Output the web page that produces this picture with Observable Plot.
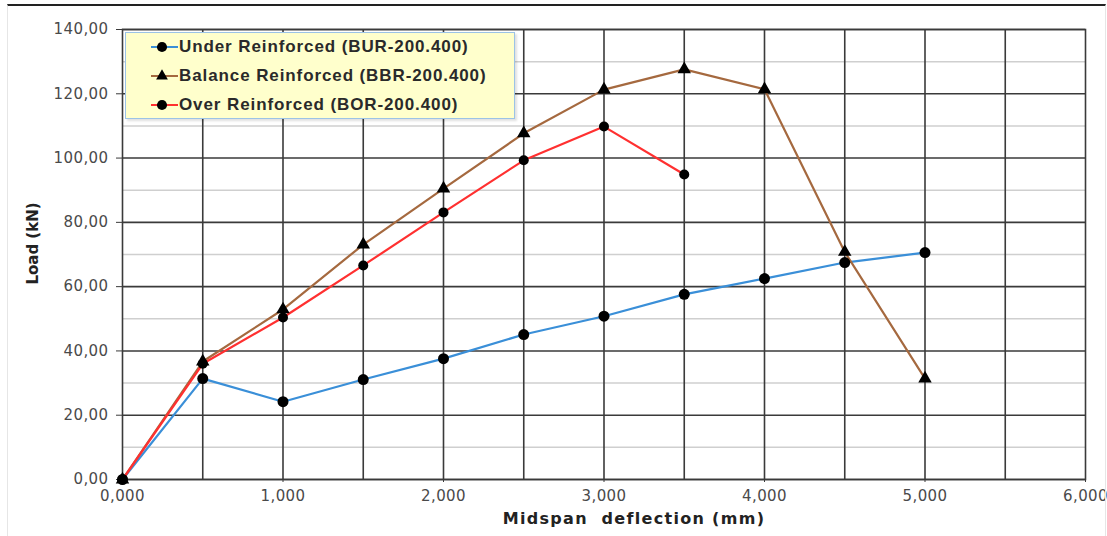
<!DOCTYPE html>
<html><head><meta charset="utf-8">
<script src="https://cdn.jsdelivr.net/npm/d3@7"></script>
<script src="https://cdn.jsdelivr.net/npm/@observablehq/plot@0.6"></script>
<style>
body{margin:0;background:#fff;}
#wrap{position:relative;width:1107px;height:536px;overflow:hidden;background:#fff;}
#frame{position:absolute;left:7px;top:4px;width:1097px;height:540px;border-top:2px solid #222;border-left:1px solid #e6e6e6;border-right:1px solid #e6e6e6;pointer-events:none;}
#legend{position:absolute;left:125px;top:32px;width:388px;height:85px;background:#ffffcc;border:1.5px solid #9cc3e6;box-shadow:2px 2px 2px rgba(0,0,0,0.12);font:bold 17px "Liberation Sans",Arial,sans-serif;letter-spacing:0.9px;color:#2a2a2a;}
.row{position:absolute;left:24px;height:20px;display:flex;align-items:center;white-space:nowrap;}
.row svg{margin-right:0px;}
.tickText text{letter-spacing:0.4px;}
</style></head>
<body>
<div id="wrap"><div id="chart"></div><div id="frame"></div><div id="legend"></div></div>
<script>
// Data
const seriesNames = ["Under Reinforced (BUR-200.400)", "Balance Reinforced (BBR-200.400)", "Over Reinforced (BOR-200.400)"];
const deflBUR = [0, 0.5, 1, 1.5, 2, 2.5, 3, 3.5, 4, 4.5, 5];
const loadBUR = [0, 31.4, 24.2, 31.1, 37.6, 45.1, 50.8, 57.6, 62.5, 67.5, 70.6];
const deflBBR = [0, 0.5, 1, 1.5, 2, 2.5, 3, 3.5, 4, 4.5, 5];
const loadBBR = [0, 36.7, 52.9, 73.1, 90.5, 107.7, 121.3, 127.6, 121.4, 70.8, 31.4];
const deflBOR = [0, 0.5, 1, 1.5, 2, 2.5, 3, 3.5];
const loadBOR = [0, 36.0, 50.4, 66.6, 83.1, 99.3, 109.8, 94.9];
const xTicks = [0, 1, 2, 3, 4, 5, 6];
const xGrid = [0.5, 1, 1.5, 2, 2.5, 3, 3.5, 4, 4.5, 5, 5.5];
const yTicks = [0, 20, 40, 60, 80, 100, 120, 140];
const yMinor = [10, 30, 50, 70, 90, 110, 130];
const colors = ["#3a8fd8", "#a5693f", "#ff3030"];
const symbols = ["circle", "triangle", "circle"];
const xLabel = "Midspan\u00a0 deflection (mm)";
const yLabel = "Load (kN)";

const mk = (xs, ys, s) => xs.map((x, i) => ({x, y: ys[i], s}));
const bur = mk(deflBUR, loadBUR, seriesNames[0]);
const bbr = mk(deflBBR, loadBBR, seriesNames[1]);
const bor = mk(deflBOR, loadBOR, seriesNames[2]);

const fmtY = d => d3.format(".2f")(d).replace(".", ",");
const fmtX = d => d3.format(".3f")(d).replace(".", ",");

const plot = Plot.plot({
  width: 1107, height: 536,
  marginLeft: 122, marginRight: 22, marginTop: 29, marginBottom: 57,
  x: {domain: [0, 6]},
  y: {domain: [0, 140]},
  style: {fontFamily: "DejaVu Sans", fontSize: "15px", color: "#4a4a4a", background: "transparent"},
  marks: [
    Plot.gridY(yMinor, {stroke: "#cfcfcf", strokeOpacity: 1, strokeWidth: 1.5}),
    Plot.gridY(yTicks, {stroke: "#3a3a3a", strokeOpacity: 1, strokeWidth: 1.6}),
    Plot.gridX(xGrid, {stroke: "#3a3a3a", strokeOpacity: 1, strokeWidth: 1.6}),
    Plot.frame({stroke: "#3a3a3a", strokeWidth: 1.6}),
    Plot.axisY(yTicks, {tickFormat: fmtY, tickSize: 6, tickPadding: 8, label: null, stroke: "#3a3a3a", className: "tickText"}),
    Plot.axisX(xTicks, {tickFormat: fmtX, tickSize: 3, tickPadding: 8, label: null, stroke: "#3a3a3a", className: "tickText"}),
    Plot.text([yLabel], {frameAnchor: "left", rotate: -90, textAnchor: "middle", dx: -89, dy: -11, fontWeight: "bold", fontSize: 15, fill: "#222"}),
    Plot.text([xLabel], {frameAnchor: "bottom", lineAnchor: "middle", dx: 30, dy: 39, fontWeight: "bold", fontSize: 16, fill: "#222"}),
    Plot.line(bur, {x: "x", y: "y", stroke: colors[0], strokeWidth: 2.2}),
    Plot.line(bbr, {x: "x", y: "y", stroke: colors[1], strokeWidth: 2.2}),
    Plot.line(bor, {x: "x", y: "y", stroke: colors[2], strokeWidth: 2.2}),
    Plot.dot(bur, {x: "x", y: "y", r: 5.5, fill: "#000", symbol: "circle"}),
    Plot.dot(bbr, {x: "x", y: "y", r: 5, fill: "#000", symbol: "triangle"}),
    Plot.dot(bor, {x: "x", y: "y", r: 5, fill: "#000", symbol: "circle"})
  ]
});
d3.select(plot).selectAll("text").filter(function() { return this.textContent === xLabel; }).style("letter-spacing", "1.3px");
document.getElementById("chart").appendChild(plot);

// Legend
const legend = d3.select("#legend");
seriesNames.forEach((name, i) => {
  const row = legend.append("div").attr("class", "row").style("top", (4 + i * 29) + "px");
  const sv = row.append("svg").attr("width", 29).attr("height", 14);
  sv.append("line").attr("x1", 1).attr("x2", 28).attr("y1", 7).attr("y2", 7).attr("stroke", colors[i]).attr("stroke-width", 2);
  const sym = symbols[i] === "triangle" ? d3.symbolTriangle : d3.symbolCircle;
  sv.append("path").attr("d", d3.symbol(sym, symbols[i] === "triangle" ? 60 : 80)()).attr("transform", "translate(12,7)").attr("fill", "#000");
  row.append("span").text(name);
});
</script>
</body></html>
